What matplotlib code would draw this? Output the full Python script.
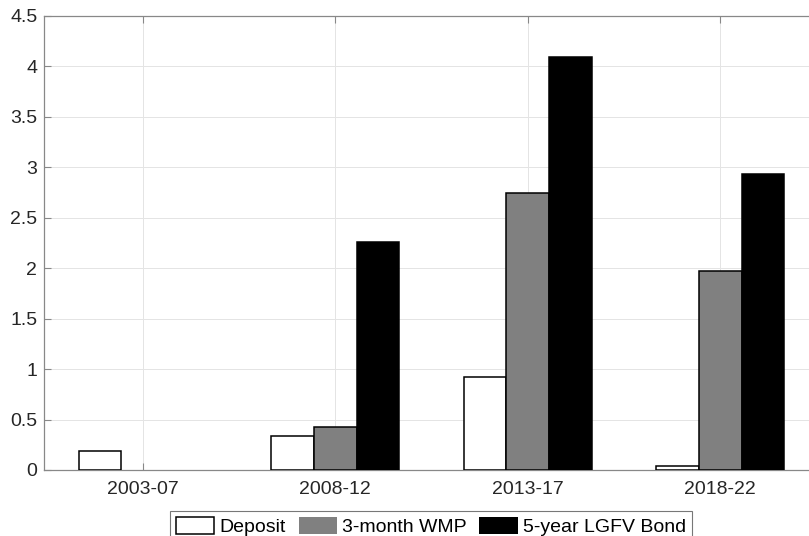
import numpy as np
import matplotlib
matplotlib.use('Agg')
import matplotlib.pyplot as plt

periods = ['2003-07', '2008-12', '2013-17', '2018-22']
deposit = [0.19, 0.34, 0.92, 0.04]
wmp = [0.0, 0.43, 2.75, 1.97]
lgfv = [0.0, 2.26, 4.09, 2.93]
series_names = ['Deposit', '3-month WMP', '5-year LGFV Bond']

plt.rcParams['font.family'] = ['Liberation Sans', 'DejaVu Sans']

fig = plt.figure(figsize=(8.09, 5.36), dpi=100)
ax = fig.add_axes([44.3/809, 66/536, 770/809, 454/536])

x = np.arange(1, len(periods) + 1)
w = 0.222
colors = ['white', '#808080', 'black']
for i, vals in enumerate([deposit, wmp, lgfv]):
    bars = ax.bar(x + (i - 1) * w, vals, width=w, color=colors[i],
                  edgecolor='black', linewidth=1.1, label=series_names[i], zorder=3)
    # matlab draws nothing for zero-height bars
    for b, v in zip(bars, vals):
        if v == 0:
            b.set_linewidth(0)

ax.set_xlim(0.489, 4.489)
ax.set_ylim(0, 4.5)
ax.set_yticks(np.arange(0, 4.51, 0.5))
ax.set_yticklabels(['0', '0.5', '1', '1.5', '2', '2.5', '3', '3.5', '4', '4.5'])
ax.set_xticks(x)
ax.set_xticklabels(periods)

ax.grid(True, color='#e4e4e4', linewidth=0.7, zorder=0)
ax.tick_params(direction='in', length=5, width=0.8, color='#888888',
               labelsize=14, labelcolor='#262626', top=True, right=False)
ax.tick_params(axis='x', pad=8)
ax.tick_params(axis='y', pad=5)
for s in ax.spines.values():
    s.set_color('#888888')
    s.set_linewidth(0.9)
ax.spines['right'].set_visible(False)

leg = fig.legend(loc='upper center', bbox_to_anchor=(431/809, 1 - 510.7/536),
                 ncol=3, fontsize=14, frameon=True, fancybox=False,
                 edgecolor='#555555', handlelength=1.98, handleheight=1.0,
                 handletextpad=0.26, columnspacing=0.65, borderpad=0.3,
                 borderaxespad=0)
leg.get_frame().set_linewidth(0.8)

fig.savefig('out.png', dpi=100)
